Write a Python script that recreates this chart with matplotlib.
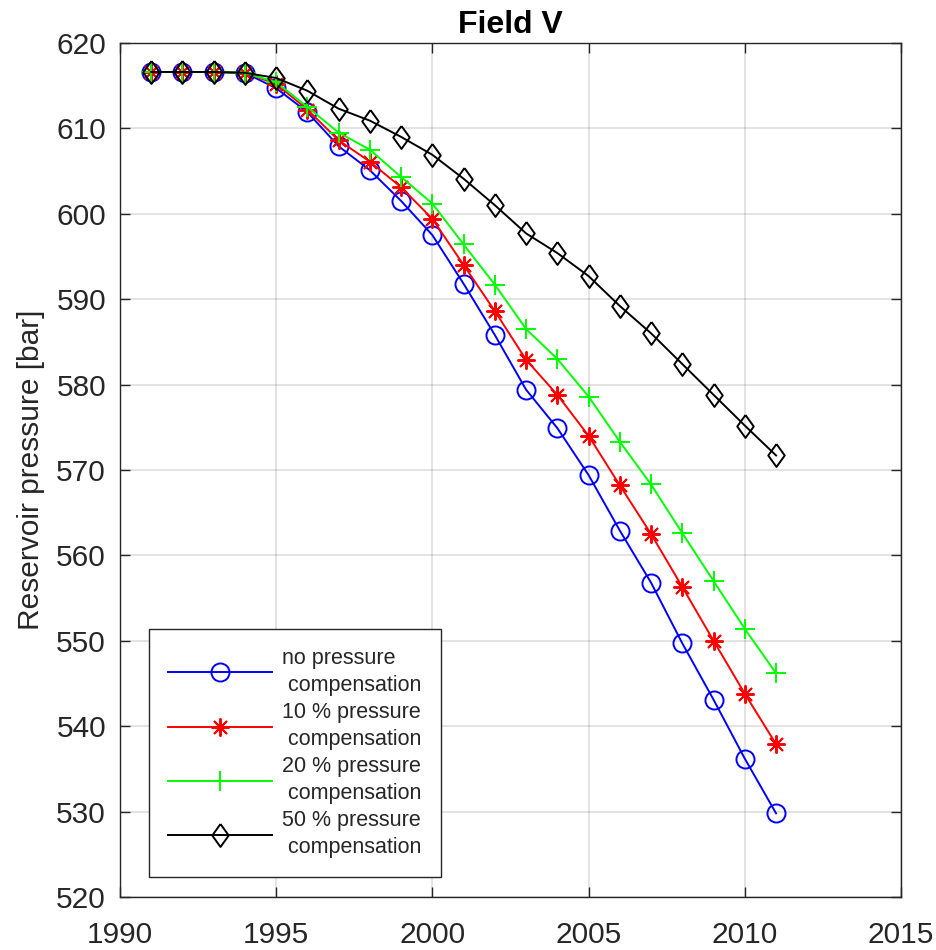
"""
Field V reservoir pressure vs year for four pressure compensation cases.
"""

import matplotlib
matplotlib.use("Agg")
import matplotlib.pyplot as plt


# Data
years = list(range(1991, 2012))

p_none = [616.6, 616.6, 616.6, 616.5, 614.7, 611.9, 607.9, 605.1, 601.5, 597.5,
          591.8, 585.8, 579.4, 574.9, 569.4, 562.9, 556.8, 549.7, 543.1, 536.2, 529.8]
p_10 = [616.6, 616.6, 616.6, 616.5, 615.2, 612.2, 608.6, 606.1, 603.1, 599.4,
        594.0, 588.6, 582.9, 578.8, 574.0, 568.2, 562.5, 556.3, 550.0, 543.8, 537.9]
p_20 = [616.6, 616.6, 616.6, 616.5, 615.4, 612.5, 609.5, 607.5, 604.3, 601.2,
        596.4, 591.7, 586.5, 583.0, 578.6, 573.3, 568.3, 562.6, 557.0, 551.4, 546.2]
p_50 = [616.6, 616.6, 616.6, 616.5, 615.9, 614.4, 612.3, 610.9, 609.0, 606.9,
        604.1, 601.0, 597.7, 595.4, 592.7, 589.2, 586.0, 582.4, 578.8, 575.2, 571.7]

labels = [
    "no pressure\n compensation",
    "10 % pressure\n compensation",
    "20 % pressure\n compensation",
    "50 % pressure\n compensation",
]

x_ticks = [1990, 1995, 2000, 2005, 2010, 2015]
y_ticks = [520, 530, 540, 550, 560, 570, 580, 590, 600, 610, 620]


plt.rcParams["font.family"] = ["Liberation Sans", "DejaVu Sans"]
TXT = "#262626"

# matlab style diamond, a bit taller than wide
diamond = [(0, 1), (0.72, 0), (0, -1), (-0.72, 0), (0, 1)]

fig = plt.figure(figsize=(9.37, 9.5), dpi=100)
ax = fig.add_axes([0.128, 0.0558, 0.8336, 0.899])

styles = [
    dict(color=(0, 0, 1), marker="o", ms=13, mfc="none"),
    dict(color=(1, 0, 0), marker=(8, 2, 0), ms=13),
    dict(color=(0, 1, 0), marker="+", ms=14),
    dict(color=(0, 0, 0), marker=diamond, ms=16.5, mfc="none"),
]

for series, label, st in zip([p_none, p_10, p_20, p_50], labels, styles):
    ax.plot(years, series, lw=1.4, mew=1.4, label=label, **st)

ax.set_xlim(1990, 2015)
ax.set_ylim(520, 620)
ax.set_xticks(x_ticks)
ax.set_yticks(y_ticks)
ax.grid(True, color="#262626", alpha=0.15, lw=1.2)
ax.set_axisbelow(True)

ax.tick_params(direction="in", length=7, width=1.0, top=True, right=True,
               labelsize=21.5, colors=TXT)
ax.tick_params(axis="y", pad=10)
ax.tick_params(axis="x", pad=17)
for sp in ax.spines.values():
    sp.set_color(TXT)
    sp.set_linewidth(1.0)

ax.set_ylabel("Reservoir pressure [bar]", fontsize=21.5, color=TXT, labelpad=8)
ax.set_title("Field V", fontsize=23, fontweight="bold", pad=7)

leg = ax.legend(loc="lower left", bbox_to_anchor=(0.037, 0.023), borderaxespad=0,
                fontsize=15.5, handlelength=4.8, handletextpad=0.5, borderpad=0.9,
                labelspacing=0.3, fancybox=False, framealpha=1,
                edgecolor=TXT)
leg.get_frame().set_linewidth(1.0)
for t in leg.get_texts():
    t.set_color(TXT)
    t.set_linespacing(1.35)

fig.savefig("out.png", dpi=100)
